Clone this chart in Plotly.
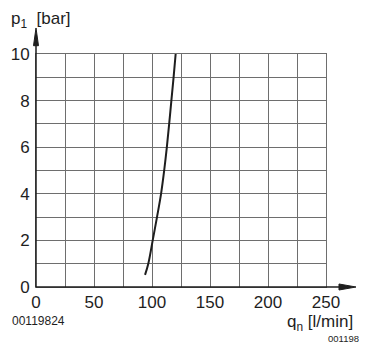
import plotly.graph_objects as go

# flow q_n [l/min] vs pressure p1 [bar]
flow = [94, 96.8, 100.6, 104.3, 107.8, 110.5, 112.8, 114.8, 116.7, 118.6, 120.4]
pressure = [0.52, 1, 2, 3, 4, 5, 6, 7, 8, 9, 10]

x_ticks = [0, 50, 100, 150, 200, 250]
y_ticks = [0, 2, 4, 6, 8, 10]

ink = "#1e1e1e"
grid = "#6e6e6e"
font = "Liberation Sans, Arial, sans-serif"

fig = go.Figure()

fig.add_trace(go.Scatter(x=flow, y=pressure, mode="lines",
                         line=dict(color=ink, width=2, shape="spline"),
                         showlegend=False, hoverinfo="skip"))

fig.update_xaxes(range=[0, 250], tickvals=x_ticks, ticks="", automargin=False,
                 showgrid=True, gridcolor=grid, gridwidth=1,
                 minor=dict(dtick=25, showgrid=True, gridcolor=grid, gridwidth=1),
                 showline=True, linecolor=grid, mirror=True, zeroline=False,
                 tickfont=dict(size=17, color=ink, family=font), ticklabelstandoff=0)
fig.update_yaxes(range=[0, 10], tickvals=y_ticks, ticks="", automargin=False,
                 showgrid=True, gridcolor=grid, gridwidth=1,
                 minor=dict(dtick=1, showgrid=True, gridcolor=grid, gridwidth=1),
                 showline=True, linecolor=grid, mirror=True, zeroline=False,
                 tickfont=dict(size=17, color=ink, family=font), ticklabelstandoff=2)

# black axes with arrowheads (paper coordinates, not clipped)
axis_line = dict(color=ink, width=1.5)
fig.add_shape(type="line", xref="paper", yref="paper", x0=0, y0=0, x1=1.05, y1=0,
              line=axis_line)
fig.add_shape(type="path", xref="paper", yref="paper",
              path="M1.0448,-0.0129 L1.1034,0 L1.0448,0.0129 Z",
              fillcolor=ink, line=dict(color=ink, width=1))
fig.add_shape(type="line", xref="paper", yref="paper", x0=0, y0=0, x1=0, y1=1.04,
              line=axis_line)
fig.add_shape(type="path", xref="paper", yref="paper",
              path="M-0.0086,1.0356 L0,1.1116 L0.0086,1.0356 Z",
              fillcolor=ink, line=dict(color=ink, width=1))

fig.add_annotation(text="p<sub>1</sub>  [bar]", xref="paper", yref="paper",
                   x=-0.093, y=1.145, xanchor="left", yanchor="middle",
                   showarrow=False, font=dict(size=17, color=ink, family=font))
fig.add_annotation(text="q<sub>n</sub> [l/min]", xref="paper", yref="paper",
                   x=1.1, y=-0.155, xanchor="right", yanchor="middle",
                   showarrow=False, font=dict(size=17, color=ink, family=font))
fig.add_annotation(text="00119824", xref="paper", yref="paper",
                   x=-0.09, y=-0.146, xanchor="left", yanchor="middle",
                   showarrow=False, font=dict(size=12, color=ink, family=font))
fig.add_annotation(text="00119824", xref="paper", yref="paper",
                   x=1.0, y=-0.219, xanchor="left", yanchor="middle",
                   showarrow=False, font=dict(size=9.5, color=ink, family=font))

# the page body adds an 8px margin, so the figure is 8px smaller each way
fig.update_layout(width=359, height=337,
                  margin=dict(l=28, r=41, t=46, b=58),
                  plot_bgcolor="white", paper_bgcolor="white")

fig.write_html("out.html")
